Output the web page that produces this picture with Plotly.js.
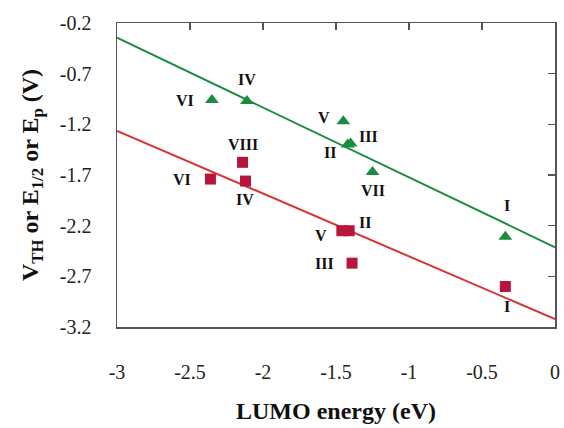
<!DOCTYPE html>
<html>
<head>
<meta charset="utf-8">
<script src="https://cdn.plot.ly/plotly-3.0.1.min.js"></script>
<style>html,body{margin:0;padding:0;background:#fff}#chart{width:564px;height:428px}</style>
</head>
<body>
<div id="chart"></div>
<script>
// Data
const greenLabels = ["VI", "IV", "V", "II", "III", "VII", "I"];
const greenX = [-2.35, -2.11, -1.45, -1.42, -1.40, -1.25, -0.34];
const greenY = [-0.96, -0.97, -1.17, -1.40, -1.39, -1.67, -2.31];

const redLabels = ["VI", "VIII", "IV", "V", "II", "III", "I"];
const redX = [-2.36, -2.14, -2.12, -1.46, -1.41, -1.39, -0.34];
const redY = [-1.74, -1.575, -1.76, -2.25, -2.25, -2.57, -2.80];

const fitX = [-3, 0];
const greenFitY = [-0.345, -2.413];
const redFitY = [-1.264, -3.122];

const xTicks = [-3, -2.5, -2, -1.5, -1, -0.5, 0];
const yTicks = [-0.2, -0.7, -1.2, -1.7, -2.2, -2.7, -3.2];

// label offsets in pixels (style only)
const greenOff = [[-27, 0], [0, -22], [-19, -4], [-18, 8], [18, -7], [0, 19], [2, -31]];
const redOff = [[-28, 0], [0, -18], [0, 18], [-21, 5], [16, -8], [-28, 0], [2, 20]];

const GREEN = "#1a8c40";
const RED_PT = "#b8153c";
const RED_LN = "#d83434";
const serif = "Liberation Serif, Times New Roman, serif";

const traces = [
  {x: fitX, y: greenFitY, mode: "lines", line: {color: GREEN, width: 2}, hoverinfo: "skip"},
  {x: fitX, y: redFitY, mode: "lines", line: {color: RED_LN, width: 2}, hoverinfo: "skip"},
  {x: greenX, y: greenY, mode: "markers", marker: {symbol: "triangle-up", size: 12, color: GREEN}},
  {x: redX, y: redY, mode: "markers", marker: {symbol: "square", size: 11, color: RED_PT}}
];

const annotations = [];
function addLabels(xs, ys, labs, offs) {
  for (let i = 0; i < xs.length; i++) {
    annotations.push({
      x: xs[i], y: ys[i], xref: "x", yref: "y",
      text: "<b>" + labs[i] + "</b>",
      showarrow: true, arrowcolor: "rgba(0,0,0,0)", arrowwidth: 0.1,
      ax: offs[i][0], ay: offs[i][1],
      font: {family: serif, size: 16, color: "#111"}
    });
  }
}
addLabels(greenX, greenY, greenLabels, greenOff);
addLabels(redX, redY, redLabels, redOff);

const layout = {
  width: 564, height: 428,
  margin: {l: 116.5, r: 8.5, t: 22.7, b: 100.7},
  paper_bgcolor: "#fff", plot_bgcolor: "#fff",
  showlegend: false,
  font: {family: serif, color: "#222"},
  xaxis: {
    range: [-3, 0], tickvals: xTicks, ticktext: xTicks.map(String),
    ticks: "", showgrid: false, zeroline: false,
    showline: true, linecolor: "#555", linewidth: 1.5, mirror: true,
    tickfont: {family: serif, size: 20, color: "#222"},
    ticklabelstandoff: 26,
    title: {text: "<b>LUMO energy (eV)</b>", font: {family: serif, size: 24, color: "#111"}, standoff: 20}
  },
  yaxis: {
    range: [-3.2, -0.2], tickvals: yTicks, ticktext: yTicks.map(String),
    ticks: "", showgrid: false, zeroline: false,
    showline: true, linecolor: "#555", linewidth: 1.5, mirror: true,
    tickfont: {family: serif, size: 20, color: "#222"},
    ticklabelstandoff: 20,
    title: {text: "<b>V<sub>TH</sub> or E<sub>1/2</sub> or E<sub>p</sub> (V)</b>", font: {family: serif, size: 24, color: "#111"}, standoff: 14}
  },
  xaxis2: {
    overlaying: "x", side: "top", matches: "x", range: [-3, 0], tickvals: xTicks,
    showticklabels: false, ticks: "inside", ticklen: 7, tickwidth: 1.5, tickcolor: "#555",
    showgrid: false, zeroline: false, showline: false
  },
  yaxis2: {
    overlaying: "y", side: "right", matches: "y", range: [-3.2, -0.2], tickvals: yTicks,
    showticklabels: false, ticks: "inside", ticklen: 7, tickwidth: 1.5, tickcolor: "#555",
    showgrid: false, zeroline: false, showline: false
  },
  annotations: annotations
};

traces.push({x: fitX, y: greenFitY, xaxis: "x2", yaxis: "y2", mode: "lines", line: {width: 0, color: "rgba(0,0,0,0)"}, hoverinfo: "skip"});

Plotly.newPlot("chart", traces, layout, {displayModeBar: false, staticPlot: true});
</script>
</body>
</html>
